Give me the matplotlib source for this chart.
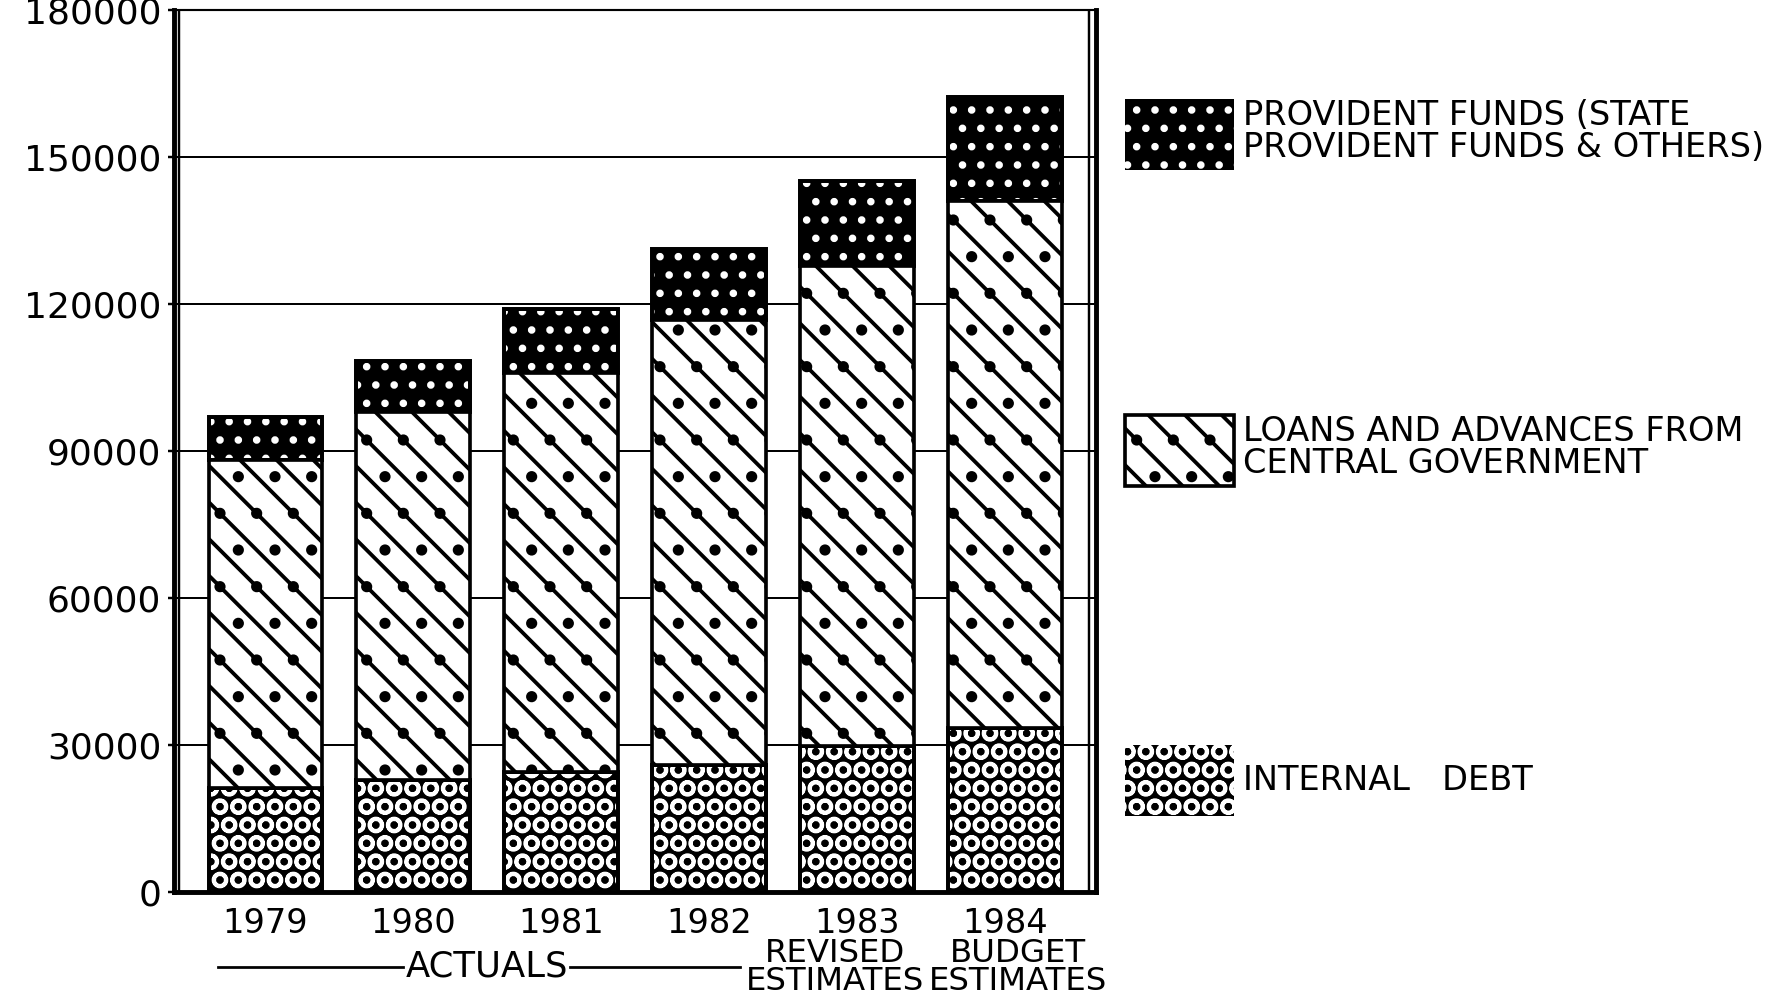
import numpy as np
import matplotlib.pyplot as plt

# values (Rs. lakhs)
years = ['1979', '1980', '1981', '1982', '1983', '1984']
year_notes = ['', '', '', '', 'REVISED\nESTIMATES', 'BUDGET\nESTIMATES']
internal_debt = [21200, 22900, 24400, 25900, 29800, 33400]
central_loans = [67000, 75100, 81600, 90800, 98000, 107700]
provident_funds = [8800, 10400, 13000, 14500, 17400, 21100]
y_ticks = [0, 30000, 60000, 90000, 120000, 150000, 180000]
series_labels = ['INTERNAL   DEBT',
                 'LOANS AND ADVANCES FROM\nCENTRAL GOVERNMENT',
                 'PROVIDENT FUNDS (STATE\nPROVIDENT FUNDS & OTHERS)']

DPI = 220
plt.rcParams['font.family'] = ['DejaVu Sans']
plt.rcParams['hatch.linewidth'] = 1.25

fig = plt.figure(figsize=(1767 / DPI, 1003 / DPI), dpi=DPI)
ax = fig.add_axes([0.0982, 0.1107, 0.5218, 0.8793])

x = np.arange(len(years))
width = 0.77
loan_base = np.array(internal_debt)
pf_base = loan_base + np.array(central_loans)

# black bars with white texture
with plt.rc_context({'hatch.color': 'white'}):
    bars_int = ax.bar(x, internal_debt, width, color='black', hatch='OO', zorder=3)
    bars_pf = ax.bar(x, provident_funds, width, bottom=pf_base, color='black',
                     hatch='..', zorder=3)
# outlines for the textured bars
ax.bar(x, internal_debt, width, fill=False, edgecolor='black', linewidth=1.3, zorder=3.5)
ax.bar(x, provident_funds, width, bottom=pf_base, fill=False, edgecolor='black',
       linewidth=1.3, zorder=3.5)
bars_loan = ax.bar(x, central_loans, width, bottom=loan_base, color='white',
                   edgecolor='black', linewidth=1.2, hatch='\\\\.', zorder=4)

# frame: double lines left and right
for side in ['left', 'right', 'bottom']:
    ax.spines[side].set_linewidth(1.6)
ax.spines['top'].set_linewidth(0.7)
ax.plot([0.006, 0.006], [0, 1], transform=ax.transAxes, color='black', lw=0.8)
ax.plot([0.9925, 0.9925], [0, 1], transform=ax.transAxes, color='black', lw=0.8)

ax.yaxis.grid(True, color='black', lw=0.65)
ax.set_axisbelow(True)

ax.set_yticks(y_ticks)
ax.set_yticklabels([str(v) for v in y_ticks], fontsize=11.8)
ax.tick_params(axis='y', length=2, width=0.8, pad=2)
ax.set_xticks(x)
ax.set_xticklabels(years, fontsize=11)
ax.tick_params(axis='x', length=0, pad=5)

trans = ax.get_xaxis_transform()
note_shift = [0, 0, 0, 0, -0.15, 0.09]
for xi, note, dx in zip(x, year_notes, note_shift):
    if note:
        ax.text(xi + dx, -0.052, note, transform=trans, ha='center', va='top',
                fontsize=10.6, linespacing=0.9)

ax.text(1.5, -0.085, 'ACTUALS', transform=trans, ha='center', va='center', fontsize=11.6)
ax.plot([-0.32, 0.93], [-0.085, -0.085], transform=trans, color='black', lw=0.9, clip_on=False)
ax.plot([2.06, 3.21], [-0.085, -0.085], transform=trans, color='black', lw=0.9, clip_on=False)

ax.set_xlim(-0.622, 5.612)
ax.set_ylim(0, 180000)

# legend entries spread down the right side
legend_rows = [(bars_pf, series_labels[2], 0.866),
               (bars_loan, series_labels[1], 0.551),
               (bars_int, series_labels[0], 0.222)]
for handle, label, ypos in legend_rows:
    leg = fig.legend([handle], [label], loc='center left',
                     bbox_to_anchor=(1125 / 1767, ypos), frameon=False,
                     fontsize=11, handlelength=3.24, handleheight=2.85,
                     handletextpad=0.27, borderpad=0, borderaxespad=0)
    for t in leg.get_texts():
        t.set_linespacing(0.95)
    for p in leg.get_patches():
        p.set_edgecolor('black') if p.get_facecolor()[0] > 0.5 else None

fig.savefig('out.png', dpi=DPI)
